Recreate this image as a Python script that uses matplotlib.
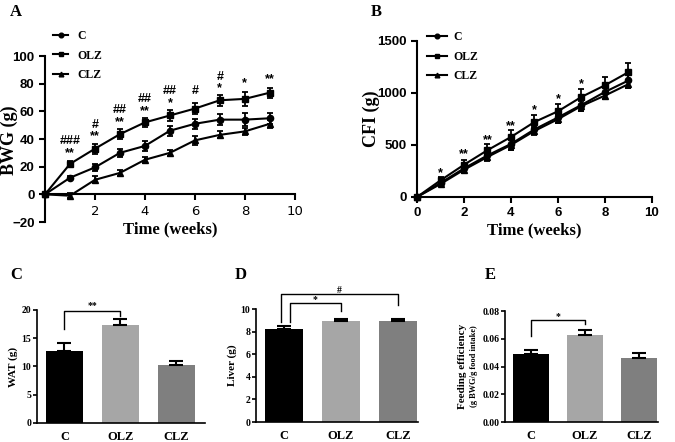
import numpy as np
import matplotlib
matplotlib.use("Agg")
from matplotlib import pyplot as plt

# ---- data ----------------------------------------------------------------
weeks = [0, 1, 2, 3, 4, 5, 6, 7, 8, 9]
groups = ["C", "OLZ", "CLZ"]
markers = ["o", "s", "^"]

bwg_c = [0, 12, 19.5, 30, 35, 46, 51, 54, 54, 55]
bwg_olz = [0, 22, 33, 43.5, 52, 57, 62, 68, 69, 73.5]
bwg_clz = [0, -1, 10.5, 15.5, 25, 30, 39, 43, 45.5, 51]
bwg_c_err = [0, 1, 2.5, 3, 3.5, 3.5, 3.5, 4, 4.5, 4]
bwg_olz_err = [0, 2, 3.5, 3.5, 3.5, 4, 4, 4, 5, 3.5]
bwg_clz_err = [0, 2, 2.5, 2, 2, 2, 3, 2.5, 2.5, 3]
bwg_marks = [(1, 30, "**"), (1, 38.5, "###"), (2, 42, "**"), (2, 50, "#"),
             (3, 52.5, "**"), (3, 61, "##"), (4, 60, "**"), (4, 69, "##"),
             (5, 66, "*"), (5, 75, "##"), (6, 75, "#"), (7, 77, "*"),
             (7, 85, "#"), (8, 80, "*"), (9, 83, "**")]

cfi_c = [0, 135, 275, 400, 510, 650, 765, 885, 1010, 1120]
cfi_olz = [0, 160, 310, 450, 577, 721, 824, 962, 1074, 1200]
cfi_clz = [0, 125, 262, 385, 500, 635, 748, 875, 975, 1085]
cfi_c_err = [0, 25, 40, 45, 55, 45, 50, 60, 70, 75]
cfi_olz_err = [0, 30, 50, 60, 65, 70, 70, 75, 80, 90]
cfi_clz_err = [0, 20, 30, 40, 50, 40, 40, 45, 35, 35]
cfi_marks = [(1, 225, "*"), (2, 410, "**"), (3, 550, "**"), (4, 680, "**"),
             (5, 835, "*"), (6, 940, "*"), (7, 1080, "*")]

wat = [12.8, 17.3, 10.2]
wat_err = [1.3, 1.1, 0.7]
liver = [8.25, 8.95, 8.95]
liver_err = [0.25, 0.2, 0.2]
feed = [0.049, 0.063, 0.0465]
feed_err = [0.003, 0.003, 0.0035]

bar_colors = ["#000000", "#a6a6a6", "#7f7f7f"]

serif = "Liberation Serif"
sans = "Liberation Sans"

fig = plt.figure(figsize=(6.75, 4.42), dpi=100)


def line_panel(ax, series, errs, ylim, yticks, xticks):
    handles = []
    for vals, err, m, g in zip(series, errs, markers, groups):
        ax.errorbar(weeks, vals, yerr=err, fmt="none", ecolor="black",
                    capsize=2.5, elinewidth=1.3, capthick=1.3, clip_on=False)
        h, = ax.plot(weeks, vals, color="black", marker=m, ms=4.5, lw=1.5,
                     label=g, clip_on=False)
        handles.append(h)
    ax.set_xlim(0, 10)
    ax.set_ylim(*ylim)
    ax.set_xticks(xticks)
    ax.set_yticks(yticks)
    ax.spines["top"].set_visible(False)
    ax.spines["right"].set_visible(False)
    ax.spines["left"].set_linewidth(1.5)
    ax.spines["bottom"].set_linewidth(1.5)
    ax.tick_params(width=1.5, length=4, labelsize=9.5)
    for t in ax.get_xticklabels() + ax.get_yticklabels():
        t.set_fontfamily(sans)
        t.set_fontweight("bold")
    ax.set_xlabel("Time (weeks)", fontfamily=serif, fontweight="bold",
                  fontsize=12, labelpad=2)
    return handles


def add_legend(ax, handles, anchor, hlen, hpad):
    ax.legend(handles=handles, loc="upper left", bbox_to_anchor=anchor,
              frameon=False, handlelength=hlen, handletextpad=hpad,
              labelspacing=0.65, borderaxespad=0, borderpad=0,
              markerscale=0.75,
              prop={"family": serif, "weight": "bold", "size": 8.5})


# ---- A -------------------------------------------------------------------
axA = fig.add_axes([0.0667, 0.4977, 0.370, 0.3756])
hA = line_panel(axA, [bwg_c, bwg_olz, bwg_clz],
                [bwg_c_err, bwg_olz_err, bwg_clz_err],
                (-20, 100), [-20, 0, 20, 40, 60, 80, 100], [2, 4, 6, 8, 10])
axA.spines["bottom"].set_position(("data", 0))
axA.set_ylabel("BWG (g)", fontfamily=serif, fontweight="bold", fontsize=13)
axA.yaxis.set_label_coords(-0.11, 0.49)
axA.xaxis.set_label_coords(0.5, 0.005)
for x, y, s in bwg_marks:
    axA.text(x, y, s, ha="center", va="center", fontsize=9,
             fontfamily=sans, fontweight="bold")
add_legend(axA, hA, (0.032, 1.157), 1.3, 0.75)

# ---- B -------------------------------------------------------------------
axB = fig.add_axes([0.6178, 0.5543, 0.348, 0.353])
hB = line_panel(axB, [cfi_c, cfi_olz, cfi_clz],
                [cfi_c_err, cfi_olz_err, cfi_clz_err],
                (0, 1500), [0, 500, 1000, 1500], [0, 2, 4, 6, 8, 10])
axB.set_ylabel("CFI (g)", fontfamily=serif, fontweight="bold", fontsize=13)
axB.yaxis.set_label_coords(-0.157, 0.5)
for x, y, s in cfi_marks:
    axB.text(x, y, s, ha="center", va="center", fontsize=9,
             fontfamily=sans, fontweight="bold")
add_legend(axB, hB, (0.043, 1.064), 1.7, 0.5)


# ---- bar panels ----------------------------------------------------------
def bar_panel(ax, vals, errs, ylim, yticks, fmt):
    x = np.arange(len(groups))
    ax.bar(x, vals, width=0.67, color=bar_colors)
    ax.errorbar(x, vals, yerr=[[0] * 3, errs], fmt="none", ecolor="black",
                elinewidth=1.5, capsize=5, capthick=1.5)
    ax.set_ylim(*ylim)
    ax.set_yticks(yticks)
    ax.set_yticklabels([fmt.format(v) for v in yticks])
    ax.set_xticks(x)
    ax.set_xticklabels(groups)
    ax.spines["top"].set_visible(False)
    ax.spines["right"].set_visible(False)
    ax.spines["left"].set_linewidth(1.2)
    ax.spines["bottom"].set_linewidth(1.2)
    ax.tick_params(axis="y", width=1.2, length=3, labelsize=7, pad=1)
    ax.tick_params(axis="x", length=0, labelsize=9, pad=6)
    for t in ax.get_xticklabels() + ax.get_yticklabels():
        t.set_fontfamily(serif)
        t.set_fontweight("bold")


def bracket(ax, x0, x1, y, y0, y1, s, dy):
    ax.plot([x0, x0, x1, x1], [y0, y, y, y1], color="black", lw=1,
            clip_on=False)
    ax.text((x0 + x1) / 2, y + dy, s, ha="center", va="center",
            fontsize=7, fontfamily=serif, fontweight="bold")


axC = fig.add_axes([0.0548, 0.043, 0.249, 0.2557])
bar_panel(axC, wat, wat_err, (0, 20), [0, 5, 10, 15, 20], "{:g}")
axC.set_xlim(-0.49, 2.51)
axC.set_ylabel("WAT (g)", fontfamily=serif, fontweight="bold", fontsize=8,
               labelpad=3)
bracket(axC, 0, 1, 19.9, 16.6, 19.0, "**", 0.9)

axD = fig.add_axes([0.3793, 0.0452, 0.240, 0.2557])
bar_panel(axD, liver, liver_err, (0, 10), [0, 2, 4, 6, 8, 10], "{:g}")
axD.set_xlim(-0.49, 2.35)
axD.set_ylabel("Liver (g)", fontfamily=serif, fontweight="bold", fontsize=8,
               labelpad=3)
bracket(axD, 0.1, 1, 10.5, 8.85, 9.8, "*", 0.35)
bracket(axD, -0.05, 2, 11.3, 8.85, 10.35, "#", 0.35)

axE = fig.add_axes([0.748, 0.0452, 0.2267, 0.251])
bar_panel(axE, feed, feed_err, (0, 0.08), [0, 0.02, 0.04, 0.06, 0.08],
          "{:.2f}")
axE.set_xlim(-0.48, 2.35)
axE.set_ylabel("Feeding efficiency", fontfamily=serif, fontweight="bold",
               fontsize=8, labelpad=11)
axE.text(-0.2, 0.5, "(g BWG/g food intake)", transform=axE.transAxes,
         rotation=90, ha="center", va="center", fontsize=6,
         fontfamily=serif, fontweight="bold")
bracket(axE, 0, 1, 0.0735, 0.062, 0.0705, "*", 0.0025)

# ---- panel letters -------------------------------------------------------
for s, x, y in [("A", 10, 12), ("B", 371, 12), ("C", 10, 275),
                ("D", 235, 275), ("E", 485, 275)]:
    fig.text(x / 675, 1 - y / 442, s, ha="left", va="center", fontsize=12,
             fontfamily=serif, fontweight="bold")

fig.savefig("out.png", dpi=100)
